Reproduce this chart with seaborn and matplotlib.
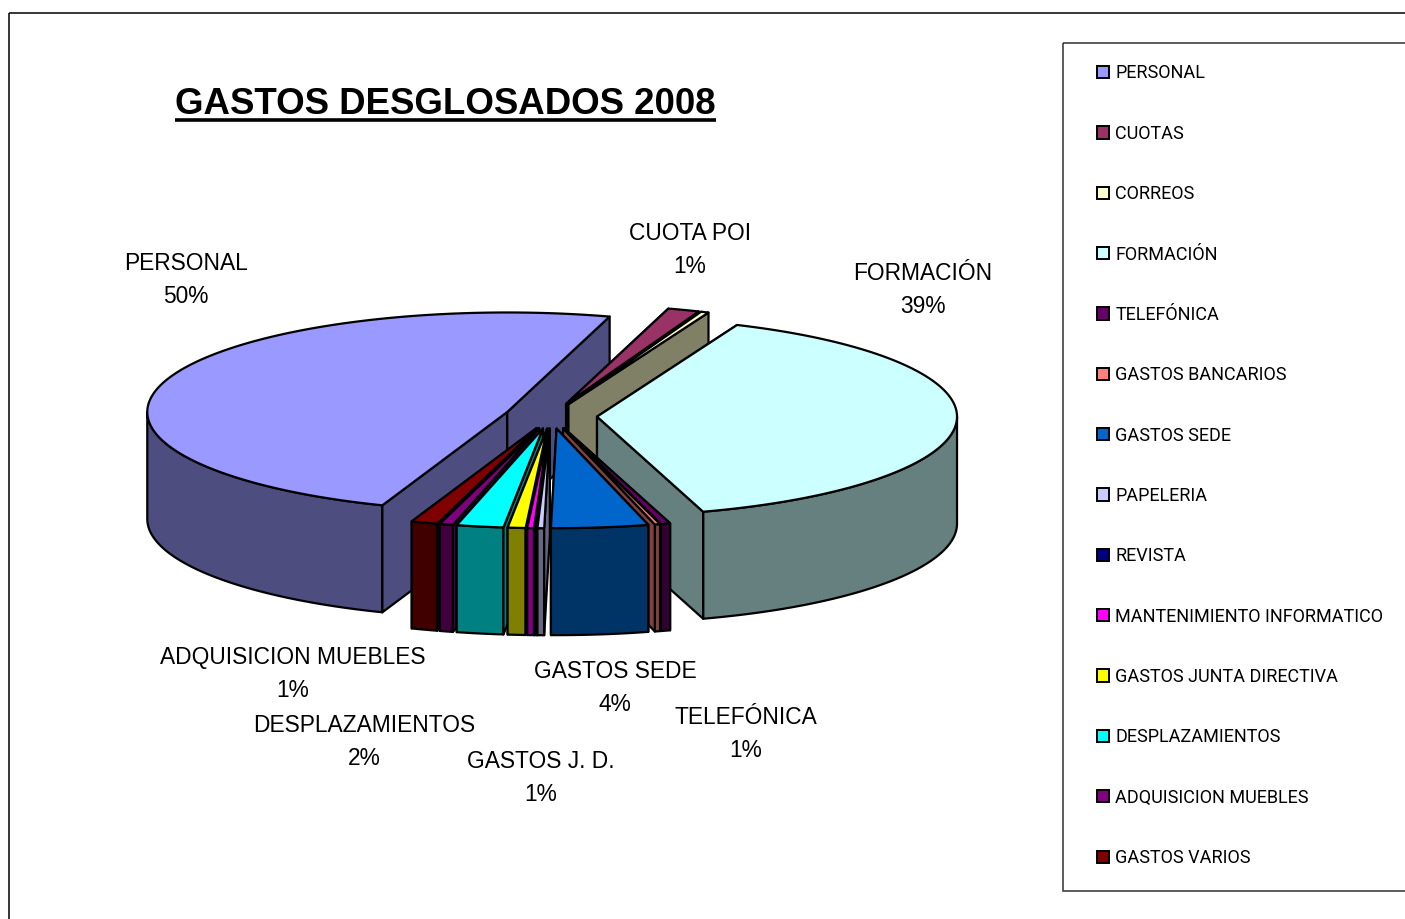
import numpy as np
import matplotlib.pyplot as plt
from matplotlib.patches import Patch, Polygon, Rectangle
import seaborn as sns

sns.set_theme(style='white')
plt.rcParams['font.family'] = ['Liberation Sans', 'DejaVu Sans']

# datos
categorias = ['PERSONAL', 'CUOTAS', 'CORREOS', 'FORMACIÓN', 'TELEFÓNICA', 'GASTOS BANCARIOS',
              'GASTOS SEDE', 'PAPELERIA', 'REVISTA', 'MANTENIMIENTO INFORMATICO',
              'GASTOS JUNTA DIRECTIVA', 'DESPLAZAMIENTOS', 'ADQUISICION MUEBLES', 'GASTOS VARIOS']
valores = [48.95, 1.42, 0.35, 38.88, 0.42, 0.24, 4.35, 0.3, 0.1, 0.3, 0.8, 2.1, 0.6, 1.19]
colores = ['#9999FF', '#993366', '#FFFFCC', '#CCFFFF', '#660066', '#FF8080', '#0066CC',
           '#CCCCFF', '#000080', '#FF00FF', '#FFFF00', '#00FFFF', '#800080', '#800000']
etiquetas = ['PERSONAL', 'CUOTA POI', 'FORMACIÓN', 'ADQUISICION MUEBLES', 'DESPLAZAMIENTOS',
             'GASTOS J. D.', 'GASTOS SEDE', 'TELEFÓNICA']
etiquetas_pct = [50, 1, 39, 1, 2, 1, 4, 1]

# geometria del pastel en pixeles de la imagen
CX, CY = 551, 416
RX, RY = 360, 99.5
ALTO = 107
EXPLOSION = 0.128
INICIO = 200.3
orden = [0, 1, 2, 3, 4, 5, 13, 12, 11, 10, 9, 8, 7, 6]
pos_etiquetas = [(186, 280), (690, 250), (923, 290), (293, 674), (364, 742), (541, 778), (615, 688), (746, 734)]

fig = plt.figure(figsize=(14.05, 9.19), dpi=100)
ax = fig.add_axes([0, 0, 1, 1])
ax.set_xlim(0, 1405)
ax.set_ylim(919, 0)
ax.axis('off')

paleta = sns.color_palette(colores)
oscuros = [tuple(c * 0.5 for c in color) for color in paleta]

angulos = np.array(valores) / sum(valores) * 360
fin = INICIO + np.cumsum(angulos)
ini = fin - angulos

LW = 1.6


def borde(ox, oy, t):
    r = np.radians(t)
    return ox + RX * np.sin(r), oy - RY * np.cos(r)


def cara(puntos, color):
    ax.add_patch(Polygon(puntos, closed=True, facecolor=color, edgecolor='black', linewidth=LW, joinstyle='round'))


def pared(ox, oy, t, color):
    x, y = borde(ox, oy, t)
    cara([(ox, oy), (x, y), (x, y + ALTO), (ox, oy + ALTO)], color)


for i in orden:
    s, e = ini[i], fin[i]
    if s >= 360:
        s, e = s - 360, e - 360
    med = np.radians((s + e) / 2)
    ox = CX + EXPLOSION * RX * np.sin(med)
    oy = CY - EXPLOSION * RY * np.cos(med)

    # paredes ocultas primero
    vis_s = np.sin(np.radians(s)) < 0
    vis_e = np.sin(np.radians(e)) > 0
    if not vis_s:
        pared(ox, oy, s, oscuros[i])
    if not vis_e:
        pared(ox, oy, e, oscuros[i])

    # pared exterior
    a, b = max(s, 90), min(e, 270)
    if b > a:
        t = np.linspace(a, b, 80)
        x, y = borde(ox, oy, t)
        cara(np.r_[np.c_[x, y], np.c_[x[::-1], y[::-1] + ALTO]], oscuros[i])

    if vis_s:
        pared(ox, oy, s, oscuros[i])
    if vis_e:
        pared(ox, oy, e, oscuros[i])

    # tapa
    t = np.linspace(s, e, 200)
    x, y = borde(ox, oy, t)
    cara(np.r_[[(ox, oy)], np.c_[x, y]], paleta[i])

for nombre, pct, (x, y) in zip(etiquetas, etiquetas_pct, pos_etiquetas):
    ax.text(x, y, f'{nombre}\n{pct}%', ha='center', va='center', fontsize=16.4,
            color='black', linespacing=1.53)

# titulo subrayado
ax.text(445, 105, 'GASTOS DESGLOSADOS 2008', ha='center', va='center', fontsize=26.4,
        fontweight='bold', color='black')
ax.plot([175, 716], [119.5, 119.5], color='black', lw=2.6, solid_capstyle='butt')

# marco exterior y caja de la leyenda
ax.add_patch(Rectangle((9, 13), 1500, 1000, fill=False, edgecolor='black', linewidth=1.1))
ax.add_patch(Rectangle((1063, 43), 500, 848, fill=False, edgecolor='#303030', linewidth=1.1))

handles = [Patch(facecolor=c, edgecolor='black', linewidth=1.4, label=n) for c, n in zip(paleta, categorias)]
ax.legend(handles=handles, loc='upper left', bbox_to_anchor=(1097, 64.5), bbox_transform=ax.transData,
          frameon=False, borderpad=0, borderaxespad=0, handlelength=0.66, handleheight=0.66,
          handletextpad=0.35, labelspacing=2.345, labelcolor='black',
          prop={'family': ['Roboto', 'Liberation Sans'], 'size': 13.0})

fig.savefig('out.png', dpi=100, facecolor='white')
